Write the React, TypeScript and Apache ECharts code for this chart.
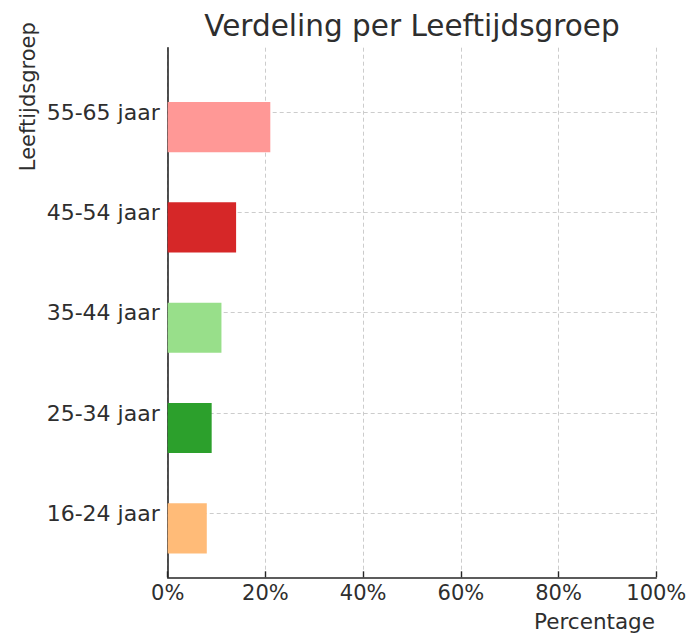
import React, { useEffect, useRef } from "react";
import * as echarts from "echarts";

const categories = ["16-24 jaar", "25-34 jaar", "35-44 jaar", "45-54 jaar", "55-65 jaar"];
const percentages = [8, 9, 11, 14, 21];
const barColors = ["#ffbb78", "#2ca02c", "#98df8a", "#d62728", "#ff9896"];
const titleText = "Verdeling per Leeftijdsgroep";
const xTitle = "Percentage";
const yTitle = "Leeftijdsgroep";

const FONT = "DejaVu Sans";
const TEXT = "#2e2e2e";
const AXIS = "#262626";
const GRID = "#cccccc";

export default function App() {
  const ref = useRef<HTMLDivElement>(null);
  useEffect(() => {
    if (!ref.current) return;
    const chart = echarts.init(ref.current, null, { renderer: "svg" });
    const catIdx = categories.map((_, i) => i);
    const data = percentages.map((v, i) => [v, i]);
    chart.setOption({
      animation: false,
      backgroundColor: "#ffffff",
      textStyle: { fontFamily: FONT },
      grid: { left: 167.7, right: 34.7, top: 47.7, bottom: 56.7, containLabel: false },
      xAxis: {
        type: "value",
        min: 0,
        max: 100,
        interval: 20,
        axisLine: { show: true, onZero: false, lineStyle: { color: AXIS, width: 1.6 } },
        axisTick: { show: true, inside: true, length: 6, lineStyle: { color: AXIS, width: 1.4 } },
        axisLabel: {
          show: true,
          margin: 5,
          fontSize: 21,
          fontFamily: FONT,
          color: TEXT,
          formatter: (v: number) => `${v}%`,
        },
        splitLine: { show: true, lineStyle: { color: GRID, type: [4, 3], width: 1 } },
      },
      yAxis: {
        type: "value",
        min: -0.638,
        max: 4.642,
        axisLine: { show: true, onZero: false, lineStyle: { color: AXIS, width: 1.6 } },
        axisTick: {
          show: true,
          inside: true,
          length: 6,
          customValues: catIdx,
          lineStyle: { color: AXIS, width: 1.4 },
        },
        axisLabel: {
          show: true,
          margin: 8,
          fontSize: 22,
          fontFamily: FONT,
          color: TEXT,
          customValues: catIdx,
          formatter: (v: number) => categories[Math.round(v)] ?? "",
        },
        splitLine: { show: true, lineStyle: { color: GRID, type: [4, 3], width: 1 } },
      },
      series: [
        {
          type: "custom",
          encode: { x: 0, y: 1 },
          data,
          renderItem: (params: any, api: any) => {
            const v = api.value(0);
            const idx = api.value(1);
            const p0 = api.coord([0, idx + 0.1]);
            const p1 = api.coord([v, idx - 0.4]);
            return {
              type: "rect",
              shape: { x: p0[0], y: p0[1], width: p1[0] - p0[0], height: p1[1] - p0[1] },
              style: { fill: barColors[idx] },
            };
          },
        },
      ],
      graphic: [
        {
          type: "text",
          x: 412,
          y: 26,
          style: {
            text: titleText,
            fontSize: 29.5,
            fontFamily: FONT,
            fill: TEXT,
            align: "center",
            verticalAlign: "middle",
          },
        },
        {
          type: "text",
          x: 655,
          y: 621.5,
          style: {
            text: xTitle,
            fontSize: 21.5,
            fontFamily: FONT,
            fill: TEXT,
            align: "right",
            verticalAlign: "middle",
          },
        },
        {
          type: "text",
          x: 27.5,
          y: 96.7,
          rotation: Math.PI / 2,
          style: {
            text: yTitle,
            fontSize: 21,
            fontFamily: FONT,
            fill: TEXT,
            align: "center",
            verticalAlign: "middle",
          },
        },
      ],
    });
    return () => chart.dispose();
  }, []);
  return (
    <div
      ref={ref}
      style={{ position: "absolute", left: 0, top: 0, width: 691, height: 634 }}
    />
  );
}
